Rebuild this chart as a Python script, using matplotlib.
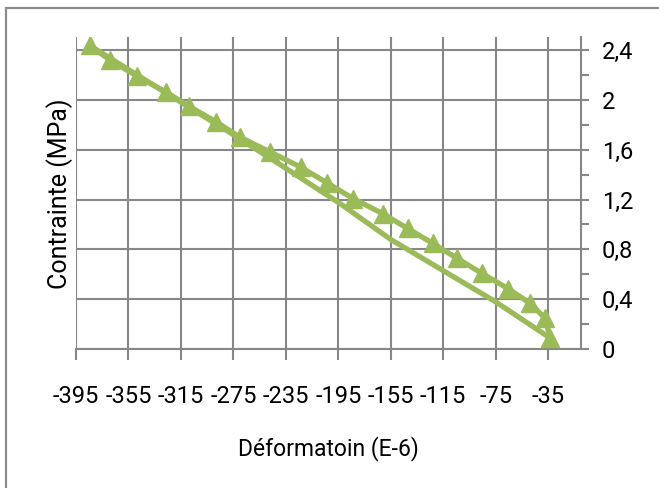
import matplotlib
matplotlib.use("Agg")
import matplotlib.pyplot as plt
from matplotlib.patches import Rectangle
from matplotlib.ticker import MultipleLocator, FuncFormatter

# upper branch (with triangle markers)
strain_up = [-33.5, -37.3, -48.7, -65.3, -85.5, -104.3, -122.9, -142.1, -161.3, -183.8,
             -203.5, -223.8, -246.9, -270.3, -287.9, -308.8, -326.4, -348.2, -368.7, -384.7]
stress_up = [0.09, 0.248, 0.368, 0.484, 0.608, 0.728, 0.848, 0.968, 1.088, 1.208,
             1.333, 1.46, 1.581, 1.701, 1.821, 1.947, 2.061, 2.187, 2.315, 2.435]

# lower branch (plain line)
strain_down = [-384.7, -272.0, -235.0, -194.0, -155.0, -75.0, -33.5]
stress_down = [2.435, 1.70, 1.45, 1.17, 0.88, 0.38, 0.09]

x_ticks = [-395, -355, -315, -275, -235, -195, -155, -115, -75, -35]

green = "#9BBB59"
grid_col = "#878787"

plt.rcParams['font.family'] = ['Roboto', 'DejaVu Sans']
plt.rcParams['axes.unicode_minus'] = False

fig = plt.figure(figsize=(6.59, 4.88), dpi=100)
ax = fig.add_axes([76 / 659, 138.7 / 488, 505 / 659, 312 / 488])

ax.plot(strain_down, stress_down, color=green, lw=3.8, solid_capstyle='butt', zorder=3)
ax.plot(strain_up, stress_up, color=green, lw=3.8, marker='^', markersize=13,
        markerfacecolor=green, markeredgecolor=green, zorder=4)

ax.set_xlim(-395, -10)
ax.set_ylim(0, 2.5)
ax.set_xticks(x_ticks)
ax.yaxis.set_major_locator(MultipleLocator(0.4))
ax.yaxis.set_minor_locator(MultipleLocator(0.2))
ax.yaxis.set_major_formatter(FuncFormatter(lambda v, p: ("%g" % round(v, 1)).replace('.', ',')))

ax.grid(True, which='major', color=grid_col, lw=1.5)
ax.set_axisbelow(True)

ax.yaxis.tick_right()
ax.yaxis.set_label_position('left')
for s in ['top', 'left']:
    ax.spines[s].set_visible(False)
ax.spines['right'].set_color(grid_col)
ax.spines['right'].set_linewidth(1.5)
ax.spines['bottom'].set_color(grid_col)
ax.spines['bottom'].set_linewidth(1.5)

ax.tick_params(axis='x', length=8, width=1.5, color=grid_col, pad=18, labelsize=17)
ax.tick_params(axis='y', which='major', length=6, width=1.5, color=grid_col, pad=9, labelsize=17)
ax.tick_params(axis='y', which='minor', length=6, width=1.5, color=grid_col)

ax.set_ylabel("Contrainte (MPa)", fontsize=18, labelpad=2)
ax.set_xlabel("Déformatoin (E-6)", fontsize=16.5, labelpad=20)

fig.patches.append(Rectangle((6 / 659, -0.1), 1.2, 1.1 - 8 / 488, transform=fig.transFigure,
                             fill=False, edgecolor="#8c8c8c", lw=1.6))

fig.savefig("out.png", dpi=100)
